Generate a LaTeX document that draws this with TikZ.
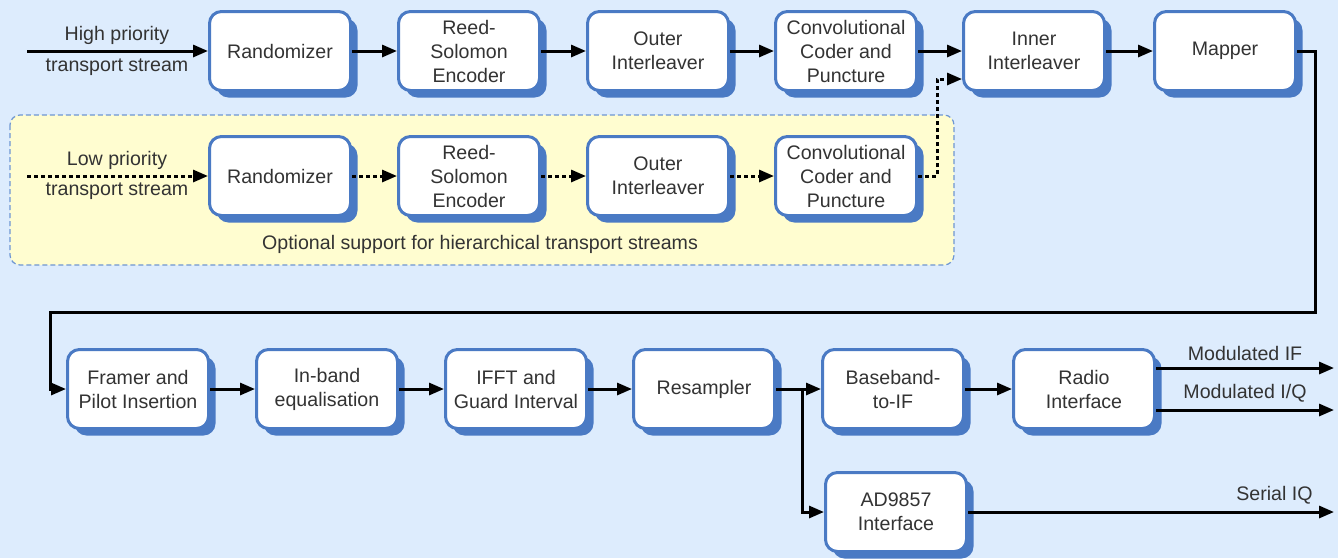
\documentclass[tikz,border=0pt]{standalone}
\usepackage{fontspec}
\setmainfont{Liberation Sans}
\usetikzlibrary{arrows.meta,shadows}
\definecolor{bgblue}{RGB}{221,236,253}
\definecolor{boxblue}{RGB}{74,122,196}
\definecolor{optyellow}{RGB}{255,253,208}
\definecolor{optline}{RGB}{110,150,210}
\definecolor{txtgray}{RGB}{51,51,51}
\begin{document}
\begin{tikzpicture}[x=0.5pt,y=-0.5pt,
  block/.style={draw=boxblue, line width=1.5pt, fill=white, rounded corners=6pt,
    minimum width=70.5pt, minimum height=39.5pt, inner sep=1pt, align=center,
    text=txtgray, font=\fontsize{9.8}{12}\selectfont,
    drop shadow={shadow xshift=3.5pt, shadow yshift=-3.5pt, fill=boxblue, opacity=1}},
  lbl/.style={text=txtgray, font=\fontsize{9.8}{12}\selectfont, inner sep=0pt},
  arr/.style={line width=1.5pt, -{Triangle[length=7.5pt,width=6pt]}},
  dotarr/.style={arr, dash pattern=on 2pt off 1.5pt}]
\useasboundingbox (0,0) rectangle (1338,558);
\fill[bgblue] (0,0) rectangle (1338,558);
%optional hierarchical branch
\draw[optline, fill=optyellow, line width=0.6pt, dash pattern=on 2.5pt off 1.5pt,
  rounded corners=5pt] (10,115) rectangle (954,265);
\node[lbl] (optlbl) at (480,244) {Optional support for hierarchical transport streams};
%high priority chain
\node[block] (rand1) at (280,51) {Randomizer};
\node[block] (rs1) at (469,51) {Reed-\\Solomon\\Encoder};
\node[block] (outer1) at (658,51) {Outer\\Interleaver};
\node[block] (conv1) at (846,51) {Convolutional\\Coder and\\Puncture};
\node[block] (inner) at (1034,51) {Inner\\Interleaver};
\node[block] (mapper) at (1225,51) {Mapper};
%low priority chain
\node[block] (rand2) at (280,176) {Randomizer};
\node[block] (rs2) at (469,176) {Reed-\\Solomon\\Encoder};
\node[block] (outer2) at (658,176) {Outer\\Interleaver};
\node[block] (conv2) at (846,176) {Convolutional\\Coder and\\Puncture};
%modulator back end
\node[block] (framer) at (138,389) {Framer and\\Pilot Insertion};
\node[block] (inband) at (327,389) {In-band\\equalisation};
\node[block] (ifft) at (516,389) {IFFT and\\Guard Interval};
\node[block] (resamp) at (704,389) {Resampler};
\node[block] (bbif) at (893,389) {Baseband-\\to-IF};
\node[block] (radio) at (1084,389) {Radio\\Interface};
\node[block] (adif) at (896,512) {AD9857\\Interface};
%inputs
\coordinate (hiin) at (27,51);
\coordinate (loin) at (27,176);
\node[lbl] (hilbl1) at (117,35) {High priority};
\node[lbl] (hilbl2) at (117,67) {transport stream};
\node[lbl] (lolbl1) at (117,160) {Low priority};
\node[lbl] (lolbl2) at (117,191) {transport stream};
\draw[arr] (hiin) -- (rand1.west);
\draw[dotarr] (loin) -- (rand2.west);
\foreach \a/\b in {rand1/rs1, rs1/outer1, outer1/conv1, conv1/inner, inner/mapper,
    framer/inband, inband/ifft, ifft/resamp, resamp/bbif, bbif/radio}
  \draw[arr] (\a.east) -- (\b.west);
\foreach \a/\b in {rand2/rs2, rs2/outer2, outer2/conv2}
  \draw[dotarr] (\a.east) -- (\b.west);
%merge into inner interleaver
\coordinate (jog) at (937,176);
\draw[dotarr] (conv2.east) -- (jog) |- ([yshift=-14pt]inner.west);
%wrap round to second row
\coordinate (wrapR) at (1315,312);
\coordinate (wrapL) at (50,312);
\draw[arr] (mapper.east) -| (wrapR) -- (wrapL) |- (framer.west);
%branch to AD9857
\coordinate (split) at (802,389);
\draw[arr] (split) |- (adif.west);
%outputs
\coordinate (outif) at (1334,368);
\coordinate (outiq) at (1334,410);
\coordinate (outser) at (1334,512);
\draw[arr] ([yshift=10.5pt]radio.east) -- (outif);
\draw[arr] ([yshift=-10.5pt]radio.east) -- (outiq);
\draw[arr] (adif.east) -- (outser);
\node[lbl] (modif) at (1245,353) {Modulated IF};
\node[lbl] (modiq) at (1245,393) {Modulated I/Q};
\node[lbl, anchor=east] (serlbl) at (1313,495) {Serial IQ};
\end{tikzpicture}
\end{document}
